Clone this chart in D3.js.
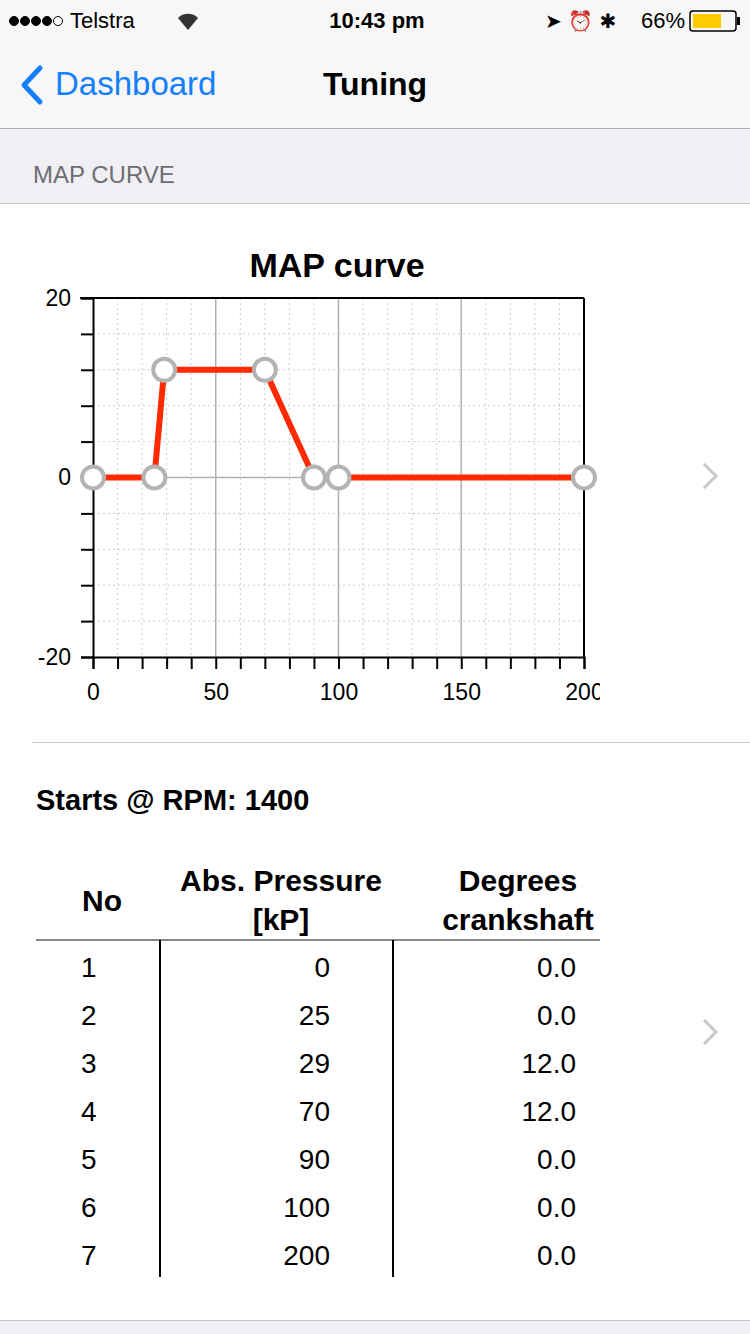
<!DOCTYPE html>
<html><head><meta charset="utf-8">
<script src="https://cdn.jsdelivr.net/npm/d3@7"></script>
<style>body{margin:0;background:#efeff4;font-family:"Liberation Sans",Arial,sans-serif;}</style>
</head><body><svg id="c" width="750" height="1334"></svg>
<script>
const pressure = [0, 25, 29, 70, 90, 100, 200];
const degrees = [0, 0, 12, 12, 0, 0, 0];
const xTicks = [0, 50, 100, 150, 200];
const yTicks = [-20, 0, 20];

const svg = d3.select("#c");
const F = "Liberation Sans, Arial, sans-serif";

// status + nav bar
svg.append("rect").attr("width", 750).attr("height", 128).attr("fill", "#f7f7f7");
svg.append("line").attr("x1", 0).attr("x2", 750).attr("y1", 128.5).attr("y2", 128.5).attr("stroke", "#b2b2b2");
for (let i = 0; i < 5; i++) {
  svg.append("circle").attr("cx", 14 + i * 11).attr("cy", 21).attr("r", 4.5)
    .attr("fill", i < 4 ? "#000" : "#fff").attr("stroke", "#000");
}
svg.append("text").attr("x", 70).attr("y", 28).attr("font-size", 22).attr("font-family", F).text("Telstra");
svg.append("path").attr("d", "M178,18 A14,14 0 0 1 198,18 L188,30 Z").attr("fill", "#333");
svg.append("text").attr("x", 377).attr("y", 28).attr("font-size", 22).attr("font-weight", "bold").attr("text-anchor", "middle").attr("font-family", F).text("10:43 pm");
svg.append("text").attr("x", 685).attr("y", 28).attr("font-size", 22).attr("text-anchor", "end").attr("font-family", F).text("66%");
svg.append("text").attr("x", 545).attr("y", 28).attr("font-size", 20).attr("font-family", "DejaVu Sans").text("➤ ⏰ ✱");
svg.append("rect").attr("x", 690).attr("y", 11).attr("width", 46).attr("height", 20).attr("rx", 3).attr("fill", "none").attr("stroke", "#000").attr("stroke-width", 1.5);
svg.append("rect").attr("x", 693).attr("y", 14).attr("width", 28).attr("height", 14).attr("fill", "#fecb00");
svg.append("rect").attr("x", 737).attr("y", 17).attr("width", 3).attr("height", 8).attr("fill", "#000");
svg.append("path").attr("d", "M40,68 L24,85 L40,102").attr("fill", "none").attr("stroke", "#147efb").attr("stroke-width", 5).attr("stroke-linecap", "round").attr("stroke-linejoin", "round");
svg.append("text").attr("x", 55).attr("y", 95).attr("font-size", 33).attr("fill", "#147efb").attr("font-family", F).text("Dashboard");
svg.append("text").attr("x", 375).attr("y", 95).attr("font-size", 32).attr("font-weight", "bold").attr("text-anchor", "middle").attr("font-family", F).text("Tuning");

svg.append("text").attr("x", 33).attr("y", 183).attr("font-size", 24).attr("fill", "#6d6d72").attr("font-family", F).text("MAP CURVE");
svg.append("rect").attr("y", 204).attr("width", 750).attr("height", 1116).attr("fill", "#fff");
svg.append("line").attr("x1", 0).attr("x2", 750).attr("y1", 203.5).attr("y2", 203.5).attr("stroke", "#c8c7cc");
svg.append("line").attr("x1", 0).attr("x2", 750).attr("y1", 1320.5).attr("y2", 1320.5).attr("stroke", "#c8c7cc");
svg.append("line").attr("x1", 32).attr("x2", 750).attr("y1", 742.5).attr("y2", 742.5).attr("stroke", "#c8c7cc");
[476, 1032].forEach(y => svg.append("path").attr("d", `M704,${y-12} L716,${y} L704,${y+12}`).attr("fill", "none").attr("stroke", "#c7c7cc").attr("stroke-width", 3));

// chart
const x = d3.scaleLinear().domain([0, 200]).range([93, 584]);
const y = d3.scaleLinear().domain([-20, 20]).range([657, 298]);
const g = svg.append("g");
g.append("text").attr("x", 337).attr("y", 277).attr("font-size", 34).attr("font-weight", "bold").attr("text-anchor", "middle").attr("font-family", F).text("MAP curve");
d3.range(10, 200, 10).filter(v => v % 50).forEach(v => g.append("line").attr("x1", x(v)).attr("x2", x(v)).attr("y1", y(20)).attr("y2", y(-20)).attr("stroke", "#ccc").attr("stroke-dasharray", "2,3"));
d3.range(-16, 20, 4).filter(v => v).forEach(v => g.append("line").attr("x1", x(0)).attr("x2", x(200)).attr("y1", y(v)).attr("y2", y(v)).attr("stroke", "#ccc").attr("stroke-dasharray", "2,3"));
[50, 100, 150].forEach(v => g.append("line").attr("x1", x(v)).attr("x2", x(v)).attr("y1", y(20)).attr("y2", y(-20)).attr("stroke", "#b0b0b0").attr("stroke-width", 1.5));
g.append("line").attr("x1", x(0)).attr("x2", x(200)).attr("y1", y(0)).attr("y2", y(0)).attr("stroke", "#b0b0b0").attr("stroke-width", 1.5);
g.append("line").attr("x1", 80).attr("x2", x(200)).attr("y1", y(20)).attr("y2", y(20)).attr("stroke", "#000").attr("stroke-width", 2);
g.append("line").attr("x1", x(200)).attr("x2", x(200)).attr("y1", y(20)).attr("y2", y(-20)).attr("stroke", "#000").attr("stroke-width", 2);

const yAxis = g.append("g").attr("transform", `translate(${x(0)},0)`)
  .call(d3.axisLeft(y).tickValues(d3.range(-20, 21, 4)).tickSize(12).tickFormat(d => yTicks.includes(d) ? d : ""));
const xAxis = g.append("g").attr("transform", `translate(0,${y(-20)})`)
  .call(d3.axisBottom(x).tickValues(d3.range(0, 201, 10)).tickSize(12).tickFormat(d => xTicks.includes(d) ? d : ""));
[yAxis, xAxis].forEach(a => {
  a.select(".domain").attr("stroke-width", 2);
  a.selectAll(".tick line").attr("stroke-width", 2);
  a.selectAll("text").attr("font-size", 23).attr("font-family", F).attr("fill", "#000");
});
yAxis.selectAll(".tick text").attr("x", -22);
xAxis.selectAll(".tick text").attr("y", 27);

const pts = pressure.map((p, i) => [p, degrees[i]]);
g.append("path").datum(pts).attr("d", d3.line().x(d => x(d[0])).y(d => y(d[1])))
  .attr("fill", "none").attr("stroke", "#ff2a00").attr("stroke-width", 6);
g.selectAll("circle.pt").data(pts).join("circle").attr("cx", d => x(d[0])).attr("cy", d => y(d[1])).attr("r", 11)
  .attr("fill", "#fff").attr("stroke", "#b3b3b3").attr("stroke-width", 4);
// clip beyond the plot edges like the original
svg.append("rect").attr("x", 600).attr("y", 660).attr("width", 30).attr("height", 50).attr("fill", "#fff");
svg.append("rect").attr("x", 60).attr("y", 460).attr("width", 33).attr("height", 10).attr("fill", "none");

// table
svg.append("text").attr("x", 36).attr("y", 810).attr("font-size", 29).attr("font-weight", "bold").attr("font-family", F).text("Starts @ RPM: 1400");
const hdr = (t, xx, yy, a) => svg.append("text").attr("x", xx).attr("y", yy).attr("font-size", 30).attr("font-weight", "bold").attr("text-anchor", a).attr("font-family", F).text(t);
hdr("No", 102, 911, "middle");
hdr("Abs. Pressure", 281, 891, "middle"); hdr("[kP]", 281, 930, "middle");
hdr("Degrees", 518, 891, "middle"); hdr("crankshaft", 518, 930, "middle");
svg.append("line").attr("x1", 36).attr("x2", 600).attr("y1", 940).attr("y2", 940).attr("stroke", "#888").attr("stroke-width", 2);
[160, 393].forEach(xx => svg.append("line").attr("x1", xx).attr("x2", xx).attr("y1", 940).attr("y2", 1277).attr("stroke", "#000").attr("stroke-width", 2));
pressure.forEach((p, i) => {
  const yy = 977 + i * 48;
  const t = (s, xx, a) => svg.append("text").attr("x", xx).attr("y", yy).attr("font-size", 28).attr("text-anchor", a).attr("font-family", F).text(s);
  t(i + 1, 81, "start"); t(p, 330, "end"); t(degrees[i].toFixed(1), 576, "end");
});
</script></body></html>
